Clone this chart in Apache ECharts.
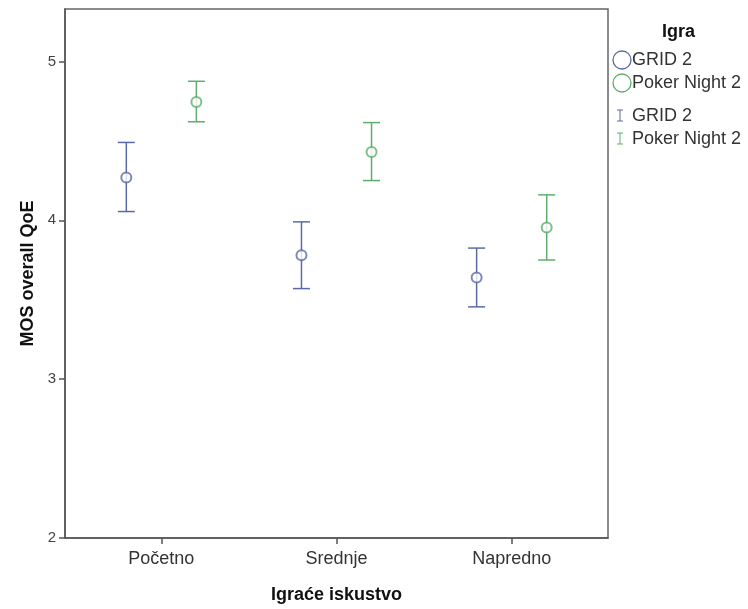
<!DOCTYPE html>
<html><head><meta charset="utf-8">
<script src="https://cdn.jsdelivr.net/npm/echarts@6/dist/echarts.min.js"></script>
<style>html,body{margin:0;padding:0;background:#fff}#c{width:748px;height:609px}</style>
</head><body><div id="c"></div>
<script>
const categories = ['Početno', 'Srednje', 'Napredno'];
const seriesNames = ['GRID 2', 'Poker Night 2'];
const gridMean = [4.27, 3.78, 3.64];
const gridLow = [4.055, 3.57, 3.455];
const gridHigh = [4.49, 3.99, 3.825];
const pokerMean = [4.745, 4.43, 3.955];
const pokerLow = [4.62, 4.25, 3.75];
const pokerHigh = [4.875, 4.615, 4.16];
const yTicks = [2, 3, 4, 5];
const colors = ['#5b6aa6', '#5dae6c'];
const offsets = [-0.2, 0.2];

const FONT = 'Liberation Sans, Arial, sans-serif';

function meanData(arr, k) { return arr.map((v, i) => [i + 1 + offsets[k], v]); }
function barData(lo, hi, k) { return lo.map((v, i) => [i + 1 + offsets[k], v, hi[i]]); }

function errRender(color) {
  return function (params, api) {
    const x = api.value(0);
    const pLo = api.coord([x, api.value(1)]);
    const pHi = api.coord([x, api.value(2)]);
    const w = 8.5;
    const style = { stroke: color, lineWidth: 1.5, fill: null };
    return {
      type: 'group',
      children: [
        { type: 'line', shape: { x1: pLo[0], y1: pLo[1], x2: pHi[0], y2: pHi[1] }, style },
        { type: 'line', shape: { x1: pLo[0] - w, y1: pLo[1], x2: pLo[0] + w, y2: pLo[1] }, style },
        { type: 'line', shape: { x1: pHi[0] - w, y1: pHi[1], x2: pHi[0] + w, y2: pHi[1] }, style }
      ]
    };
  };
}

const chart = echarts.init(document.getElementById('c'));
chart.setOption({
  animation: false,
  textStyle: { fontFamily: FONT },
  grid: { left: 65, top: 9, right: 140, bottom: 68, show: true, borderColor: '#666', borderWidth: 1.5, backgroundColor: '#fff' },
  xAxis: {
    type: 'value', min: 0.45, max: 3.55,
    axisLine: { show: true, lineStyle: { color: '#555', width: 1.5 } },
    axisTick: { show: true, customValues: [1, 2, 3], length: 6, inside: false, lineStyle: { color: '#555', width: 1.5 } },
    axisLabel: { customValues: [1, 2, 3], formatter: v => categories[Math.round(v) - 1] || '', color: '#333', fontSize: 18, fontFamily: FONT, margin: 12 },
    splitLine: { show: false },
    name: 'Igraće iskustvo', nameLocation: 'middle', nameGap: 48,
    nameTextStyle: { fontWeight: 'bold', fontSize: 18, color: '#111', fontFamily: FONT }
  },
  yAxis: {
    type: 'value', min: 2, max: 5.33,
    axisLine: { show: true, lineStyle: { color: '#555', width: 1.5 } },
    axisTick: { show: true, customValues: yTicks, length: 6, lineStyle: { color: '#555', width: 1.5 } },
    axisLabel: { customValues: yTicks, color: '#444', fontSize: 15, fontFamily: FONT, margin: 9 },
    splitLine: { show: false },
    name: 'MOS overall QoE', nameLocation: 'middle', nameGap: 26, nameRotate: 90,
    nameTextStyle: { fontWeight: 'bold', fontSize: 18, color: '#111', fontFamily: FONT }
  },
  series: [
    { name: seriesNames[0] + ' mean', type: 'scatter', data: meanData(gridMean, 0), symbol: 'emptyCircle', symbolSize: 10, itemStyle: { color: colors[0], borderWidth: 1.5 }, z: 3 },
    { name: seriesNames[1] + ' mean', type: 'scatter', data: meanData(pokerMean, 1), symbol: 'emptyCircle', symbolSize: 10, itemStyle: { color: colors[1], borderWidth: 1.5 }, z: 3 },
    { name: seriesNames[0] + ' CI', type: 'custom', data: barData(gridLow, gridHigh, 0), renderItem: errRender(colors[0]), encode: { x: 0, y: [1, 2] }, z: 2 },
    { name: seriesNames[1] + ' CI', type: 'custom', data: barData(pokerLow, pokerHigh, 1), renderItem: errRender(colors[1]), encode: { x: 0, y: [1, 2] }, z: 2 }
  ],
  graphic: [
    { type: 'text', left: 662, top: 23, style: { text: 'Igra', font: 'bold 18px ' + FONT, fill: '#111' } },
    { type: 'circle', shape: { cx: 622, cy: 60, r: 9 }, style: { fill: 'none', stroke: colors[0], lineWidth: 1.3 } },
    { type: 'text', left: 632, top: 51, style: { text: seriesNames[0], font: '18px ' + FONT, fill: '#333' } },
    { type: 'circle', shape: { cx: 622, cy: 83, r: 9 }, style: { fill: 'none', stroke: colors[1], lineWidth: 1.3 } },
    { type: 'text', left: 632, top: 74, style: { text: seriesNames[1], font: '18px ' + FONT, fill: '#333' } },
    { type: 'group', children: [
      { type: 'line', shape: { x1: 620, y1: 110, x2: 620, y2: 121 }, style: { stroke: colors[0], lineWidth: 1 } },
      { type: 'line', shape: { x1: 617, y1: 110, x2: 623, y2: 110 }, style: { stroke: colors[0], lineWidth: 1 } },
      { type: 'line', shape: { x1: 617, y1: 121, x2: 623, y2: 121 }, style: { stroke: colors[0], lineWidth: 1 } },
      { type: 'line', shape: { x1: 620, y1: 133, x2: 620, y2: 144 }, style: { stroke: colors[1], lineWidth: 1 } },
      { type: 'line', shape: { x1: 617, y1: 133, x2: 623, y2: 133 }, style: { stroke: colors[1], lineWidth: 1 } },
      { type: 'line', shape: { x1: 617, y1: 144, x2: 623, y2: 144 }, style: { stroke: colors[1], lineWidth: 1 } }
    ] },
    { type: 'text', left: 632, top: 107, style: { text: seriesNames[0], font: '18px ' + FONT, fill: '#333' } },
    { type: 'text', left: 632, top: 130, style: { text: seriesNames[1], font: '18px ' + FONT, fill: '#333' } }
  ]
});
</script>
</body></html>
